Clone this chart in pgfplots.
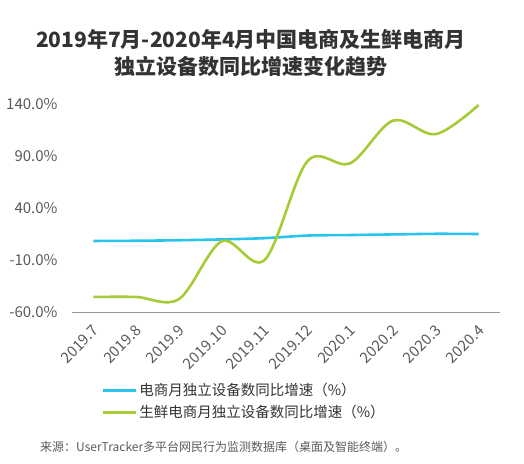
\documentclass[border=0pt]{standalone}
\usepackage{fontspec}
\setmainfont{Noto Sans CJK SC}
\usepackage{pgfplots}
\pgfplotsset{compat=1.18}

\definecolor{ecblue}{RGB}{41,196,238}
\definecolor{freshgreen}{RGB}{166,203,54}
\definecolor{ticktext}{RGB}{90,90,90}
\definecolor{titletext}{RGB}{51,51,51}

\begin{document}
\begin{tikzpicture}
  \path[use as bounding box] (0,0) rectangle (524pt,463pt);
  \begin{axis}[
      at={(72pt,151pt)}, anchor=south west,
      scale only axis,
      width=428pt, height=218.4pt,
      xmin=-0.5, xmax=9.5,
      ymin=-60, ymax=150,
      axis x line*=bottom,
      axis y line*=left,
      x axis line style={draw=gray!80, line width=0.8pt, -},
      y axis line style={draw=none},
      xtick={0,...,9},
      xticklabels={2019.7,2019.8,2019.9,2019.10,2019.11,2019.12,2020.1,2020.2,2020.3,2020.4},
      major tick length=0pt,
      xticklabel style={rotate=45, anchor=north east, font=\fontsize{15}{17}\selectfont, text=ticktext, yshift=-4pt, xshift=-6pt},
      ytick={-60,-10,40,90,140},
      yticklabel={\pgfmathprintnumber[fixed,fixed zerofill,precision=1]{\tick}\%},
      yticklabel style={font=\fontsize{15}{17}\selectfont, text=ticktext, xshift=-11pt},
      /pgf/number format/assume math mode=true,
      clip=false,
      legend style={at={(0.068,-0.317)}, anchor=north west, draw=none, fill=none,
        font=\fontsize{14.5}{17}\selectfont, text=titletext,
        row sep=4pt, inner sep=0pt},
      legend cell align=left,
      legend image code/.code={\draw[#1, line width=3pt] (0pt,0pt) -- (33pt,0pt);},
    ]
    \addplot[ecblue, line width=2.6pt, smooth] coordinates {
      (0,8.3) (1,8.5) (2,9.0) (3,9.8) (4,11.0) (5,13.5) (6,14.0) (7,14.6) (8,15.2) (9,15.0)
    };
    \addlegendentry{电商月独立设备数同比增速（\%）}
    \addplot[freshgreen, line width=2.6pt, smooth, tension=0.55] coordinates {
      (0,-45.5) (1,-45.5) (2,-47.5) (3,8) (4,-10) (5,85) (6,83) (7,124) (8,111) (9,139)
    };
    \addlegendentry{生鲜电商月独立设备数同比增速（\%）}
  \end{axis}
  \node[font=\bfseries\fontsize{21}{26.5}\selectfont, text=titletext, align=center]
    at (251pt,410pt) {2019年7月-2020年4月中国电商及生鲜电商月\\独立设备数同比增速变化趋势};
  \node[font=\fontsize{12}{14}\selectfont, text=ticktext, anchor=west, inner sep=0pt]
    at (40pt,16pt) {来源：UserTracker多平台网民行为监测数据库（桌面及智能终端）。};
\end{tikzpicture}
\end{document}
